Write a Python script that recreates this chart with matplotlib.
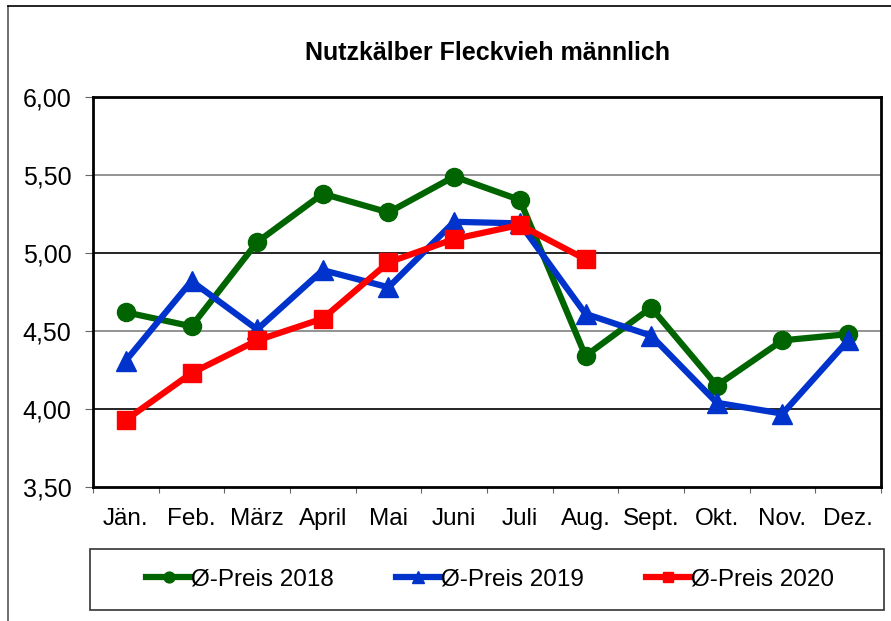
import matplotlib
matplotlib.use("Agg")
import matplotlib.pyplot as plt
from matplotlib.patches import Rectangle
from matplotlib.lines import Line2D

plt.rcParams['font.family'] = ['Liberation Sans', 'DejaVu Sans']

months = ["Jän.", "Feb.", "März", "April", "Mai", "Juni", "Juli", "Aug.", "Sept.", "Okt.", "Nov.", "Dez."]
preis_2018 = [4.62, 4.53, 5.07, 5.38, 5.26, 5.49, 5.34, 4.34, 4.65, 4.15, 4.44, 4.48]
preis_2019 = [4.31, 4.82, 4.51, 4.89, 4.78, 5.20, 5.19, 4.61, 4.47, 4.04, 3.97, 4.44]
preis_2020 = [3.93, 4.23, 4.44, 4.58, 4.94, 5.09, 5.18, 4.96]
y_ticks = [3.5, 4.0, 4.5, 5.0, 5.5, 6.0]
title = "Nutzkälber Fleckvieh männlich"
labels = ["Ø-Preis 2018", "Ø-Preis 2019", "Ø-Preis 2020"]

W, H = 891, 621
fig = plt.figure(figsize=(W / 100, H / 100), dpi=100)
fig.patch.set_facecolor('white')

# outer chart frame (left and top visible)
fig.add_artist(Line2D([8 / W, 8 / W], [0, 1 - 6 / H], transform=fig.transFigure, color='#555555', lw=1.2))
fig.add_artist(Line2D([8 / W, 1], [1 - 6 / H, 1 - 6 / H], transform=fig.transFigure, color='black', lw=1.2))

left, right, top, bottom = 93, 881, 97, 487
ax = fig.add_axes([left / W, 1 - bottom / H, (right - left) / W, (bottom - top) / H])

x = list(range(len(months)))
s1, = ax.plot(x, preis_2018, color='#006400', lw=4.5, marker='o', ms=13, zorder=3)
s2, = ax.plot(x, preis_2019, color='#0033CC', lw=4.5, marker='^', ms=14, zorder=4)
s3, = ax.plot(x[:len(preis_2020)], preis_2020, color='#FF0000', lw=4.5, marker='s', ms=13, zorder=5)

ax.set_xlim(-0.5, len(months) - 0.5)
ax.set_ylim(3.5, 6.0)
ax.set_yticks(y_ticks)
ax.set_yticklabels([f"{v:.2f}".replace('.', ',') for v in y_ticks], fontsize=18)
for v in y_ticks[1:-1]:
    ax.axhline(v, color='#808080' if (v * 2) % 2 == 1 else 'black', lw=1.2, zorder=1)

ax.set_xticks([i - 0.5 for i in range(len(months) + 1)])
ax.set_xticklabels([])
ax.set_xticks(x, minor=True)
ax.set_xticklabels(months, minor=True, fontsize=17.5)
ax.tick_params(axis='x', which='minor', length=0, pad=15)
ax.tick_params(axis='x', which='major', length=4, color='#666666', direction='out')
ax.tick_params(axis='y', length=6, color='#666666', direction='out', pad=9.5)

for sp in ax.spines.values():
    sp.set_linewidth(2)
    sp.set_color('black')

fig.text(488 / W, 1 - 53 / H, title, ha='center', va='center', fontsize=18, fontweight='bold')

# legend box
lx0, lx1, ly0, ly1 = 90, 884, 549, 610
fig.add_artist(Rectangle((lx0 / W, 1 - ly1 / H), (lx1 - lx0) / W, (ly1 - ly0) / H,
                         transform=fig.transFigure, fill=False, edgecolor='#333333', lw=1.2))
leg = fig.legend([s1, s2, s3], labels, ncol=3, loc='center',
                 bbox_to_anchor=(490 / W, 1 - (ly0 + ly1) / 2 / H),
                 frameon=False, fontsize=17.5, handlelength=1.85, handletextpad=0.0,
                 columnspacing=2.55, markerscale=0.6)

fig.savefig('out.png', dpi=100)
